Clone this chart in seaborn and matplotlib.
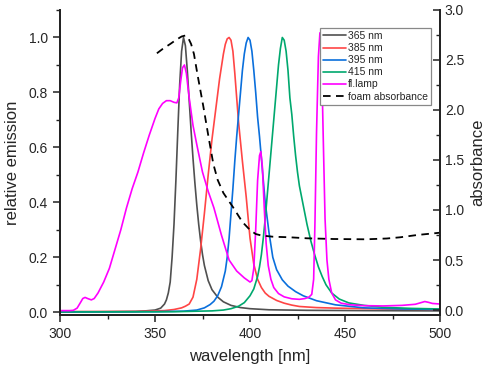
import matplotlib
matplotlib.use("Agg")
import matplotlib.pyplot as plt
from matplotlib.ticker import MultipleLocator, FormatStrFormatter
import seaborn as sns

# 365 nm LED
wl_365 = [300, 320, 340, 345, 350, 353, 355, 356, 357, 358, 359, 360, 361, 362, 363, 364, 365,
          366, 367, 368, 369, 370, 371, 372, 373, 374, 375, 376, 378, 380, 383, 386, 390, 395,
          400, 410, 430, 460, 500]
em_365 = [0.002, 0.002, 0.003, 0.005, 0.008, 0.015, 0.03, 0.045, 0.07, 0.11, 0.2, 0.32, 0.48,
          0.66, 0.83, 0.95, 1.0, 0.97, 0.88, 0.77, 0.66, 0.56, 0.47, 0.39, 0.32, 0.26, 0.21,
          0.17, 0.115, 0.082, 0.055, 0.038, 0.025, 0.017, 0.013, 0.009, 0.007, 0.006, 0.005]

# 385 nm LED
wl_385 = [300, 340, 355, 360, 364, 366, 368, 370, 372, 374, 376, 378, 380, 382, 384, 386, 387,
          388, 389, 390, 391, 392, 394, 396, 398, 400, 402, 404, 406, 408, 410, 414, 418, 422,
          426, 435, 445, 470, 500]
em_385 = [0.002, 0.003, 0.006, 0.01, 0.016, 0.022, 0.03, 0.055, 0.12, 0.23, 0.36, 0.5, 0.63,
          0.74, 0.85, 0.94, 0.975, 0.995, 1.0, 0.99, 0.95, 0.87, 0.69, 0.55, 0.42, 0.27, 0.175,
          0.12, 0.09, 0.07, 0.058, 0.043, 0.033, 0.026, 0.021, 0.017, 0.015, 0.012, 0.01]

# 395 nm LED
wl_395 = [300, 350, 365, 372, 376, 379, 381, 383, 385, 387, 388, 389, 390, 391, 392, 393, 394,
          395, 396, 397, 398, 399, 400, 401, 402, 403, 404, 405, 406, 407, 408, 410, 412, 414,
          417, 420, 424, 428, 435, 445, 460, 480, 500]
em_395 = [0.001, 0.002, 0.004, 0.008, 0.016, 0.028, 0.04, 0.06, 0.093, 0.15, 0.2, 0.27, 0.36,
          0.45, 0.55, 0.64, 0.72, 0.8, 0.88, 0.94, 0.98, 1.0, 0.99, 0.95, 0.88, 0.8, 0.71, 0.64,
          0.56, 0.48, 0.4, 0.29, 0.2, 0.155, 0.118, 0.095, 0.075, 0.06, 0.042, 0.027, 0.016,
          0.012, 0.01]

# 415 nm LED
wl_415 = [300, 360, 380, 386, 390, 394, 397, 400, 402, 404, 405, 406, 407, 408, 409, 410, 411,
          412, 413, 414, 415, 416, 417, 418, 419, 420, 421, 422, 423, 424, 425, 426, 428, 430,
          432, 434, 436, 438, 440, 443, 447, 452, 460, 470, 485, 500]
em_415 = [0.001, 0.002, 0.005, 0.008, 0.013, 0.022, 0.035, 0.06, 0.085, 0.13, 0.165, 0.21, 0.27,
          0.34, 0.42, 0.5, 0.58, 0.66, 0.74, 0.82, 0.9, 0.96, 1.0, 0.99, 0.95, 0.88, 0.78, 0.72,
          0.64, 0.57, 0.51, 0.46, 0.39, 0.32, 0.26, 0.21, 0.165, 0.13, 0.1, 0.07, 0.048, 0.034,
          0.025, 0.018, 0.014, 0.012]

# fluorescent lamp
wl_lamp = [300, 305, 307, 309, 311, 312, 313.2, 314.5, 316.5, 318, 320, 323, 326, 329, 332, 335,
           338, 341, 344, 347, 350, 352, 354, 356, 358, 360, 361.5, 362.5, 363.5, 364.5, 365.5,
           366.5, 368, 370, 372, 375, 378, 381, 385, 389, 393, 397, 400, 401, 402, 403, 404,
           405, 405.7, 406.5, 407.5, 408.5, 409.6, 411, 412.5, 415, 418, 422, 426, 429, 431,
           432.5, 433.5, 434.2, 435, 436, 436.8, 437.6, 438.5, 439.5, 440.5, 441.5, 443, 445,
           448, 453, 460, 470, 480, 487, 490, 492, 494, 496, 500]
em_lamp = [0.006, 0.006, 0.007, 0.015, 0.038, 0.05, 0.054, 0.05, 0.045, 0.05, 0.07, 0.11, 0.16,
           0.23, 0.3, 0.38, 0.45, 0.51, 0.58, 0.645, 0.705, 0.74, 0.76, 0.77, 0.77, 0.764, 0.762,
           0.78, 0.84, 0.89, 0.9, 0.87, 0.78, 0.68, 0.61, 0.51, 0.44, 0.38, 0.28, 0.19, 0.15,
           0.125, 0.11, 0.115, 0.16, 0.3, 0.48, 0.57, 0.585, 0.53, 0.38, 0.25, 0.17, 0.12, 0.09,
           0.068, 0.056, 0.049, 0.047, 0.05, 0.055, 0.065, 0.12, 0.33, 0.65, 0.93, 1.017, 0.95,
           0.65, 0.34, 0.19, 0.12, 0.07, 0.045, 0.033, 0.027, 0.024, 0.023, 0.025, 0.029, 0.035,
           0.039, 0.036, 0.032, 0.03]

# foam absorbance (right axis)
wl_foam = [351, 354, 358, 361, 364, 366, 367.5, 369, 370.5, 372.5, 375.4, 378, 380.7, 383, 386,
           391, 396, 400, 403, 406, 412, 421, 430, 444, 461, 472, 479, 488, 500]
abs_foam = [2.567, 2.61, 2.66, 2.7, 2.735, 2.745, 2.72, 2.66, 2.56, 2.34, 2.04, 1.75, 1.46, 1.3,
            1.17, 1.03, 0.88, 0.8, 0.76, 0.745, 0.733, 0.727, 0.717, 0.71, 0.707, 0.715, 0.727,
            0.75, 0.773]

sns.set_theme(style="ticks")
plt.rcParams['font.family'] = ['Liberation Sans', 'DejaVu Sans']

fig = plt.figure(figsize=(4.84, 3.69), dpi=100)
ax = fig.add_axes([60 / 484, 1 - 315 / 369, 380 / 484, 305 / 369])
ax2 = ax.twinx()

lw = 1.2
sns.lineplot(x=wl_365, y=em_365, ax=ax, color='#505050', lw=lw, sort=False, estimator=None, label='365 nm')
sns.lineplot(x=wl_385, y=em_385, ax=ax, color='#ff4545', lw=lw, sort=False, estimator=None, label='385 nm')
sns.lineplot(x=wl_395, y=em_395, ax=ax, color='#0a6fdc', lw=lw, sort=False, estimator=None, label='395 nm')
sns.lineplot(x=wl_415, y=em_415, ax=ax, color='#00a86e', lw=lw, sort=False, estimator=None, label='415 nm')
sns.lineplot(x=wl_lamp, y=em_lamp, ax=ax, color='#ff00ff', lw=lw, sort=False, estimator=None, label='fl.lamp')
sns.lineplot(x=wl_foam, y=abs_foam, ax=ax2, color='black', lw=1.3, sort=False, estimator=None,
             label='foam absorbance')
ax2.lines[0].set_dashes((4.2, 3.0))

ax.set_xlim(300, 500)
ax.set_ylim(-0.01, 1.1)
ax2.set_ylim(-0.05, 3.0)

ax.xaxis.set_major_locator(MultipleLocator(50))
ax.xaxis.set_minor_locator(MultipleLocator(25))
ax.yaxis.set_major_locator(MultipleLocator(0.2))
ax.yaxis.set_minor_locator(MultipleLocator(0.1))
ax2.yaxis.set_major_locator(MultipleLocator(0.5))
ax2.yaxis.set_minor_locator(MultipleLocator(0.25))
ax.yaxis.set_major_formatter(FormatStrFormatter('%.1f'))
ax2.yaxis.set_major_formatter(FormatStrFormatter('%.1f'))

for a in (ax, ax2):
    a.spines['top'].set_visible(False)
    for s in a.spines.values():
        s.set_linewidth(1.3)
        s.set_color('#222222')
ax.tick_params(axis='both', which='major', direction='out', length=5, width=1.1, labelsize=10, color='#222222')
ax.tick_params(axis='both', which='minor', direction='out', length=3, width=1.0, color='#222222')
ax2.tick_params(axis='y', which='major', direction='in', length=5, width=1.1, labelsize=10, color='#222222')
ax2.tick_params(axis='y', which='minor', direction='in', length=3, width=1.0, color='#222222')

ax.set_xlabel('wavelength [nm]', fontsize=12, labelpad=6)
ax.set_ylabel('relative emission', fontsize=12, labelpad=6)
ax2.set_ylabel('absorbance', fontsize=12, labelpad=4)

h1, l1 = ax.get_legend_handles_labels()
h2, l2 = ax2.get_legend_handles_labels()
for a in (ax, ax2):
    if a.get_legend():
        a.get_legend().remove()
leg = ax2.legend(h1 + h2, l1 + l2, loc='upper right', bbox_to_anchor=(0.976, 0.941),
                 fontsize=7.5, frameon=True, fancybox=False, framealpha=1, edgecolor='#888888',
                 handlelength=2.2, labelspacing=0.2, borderpad=0.3, handletextpad=0.2,
                 borderaxespad=0)
leg.get_frame().set_linewidth(0.9)

fig.savefig('out.png', dpi=100)
